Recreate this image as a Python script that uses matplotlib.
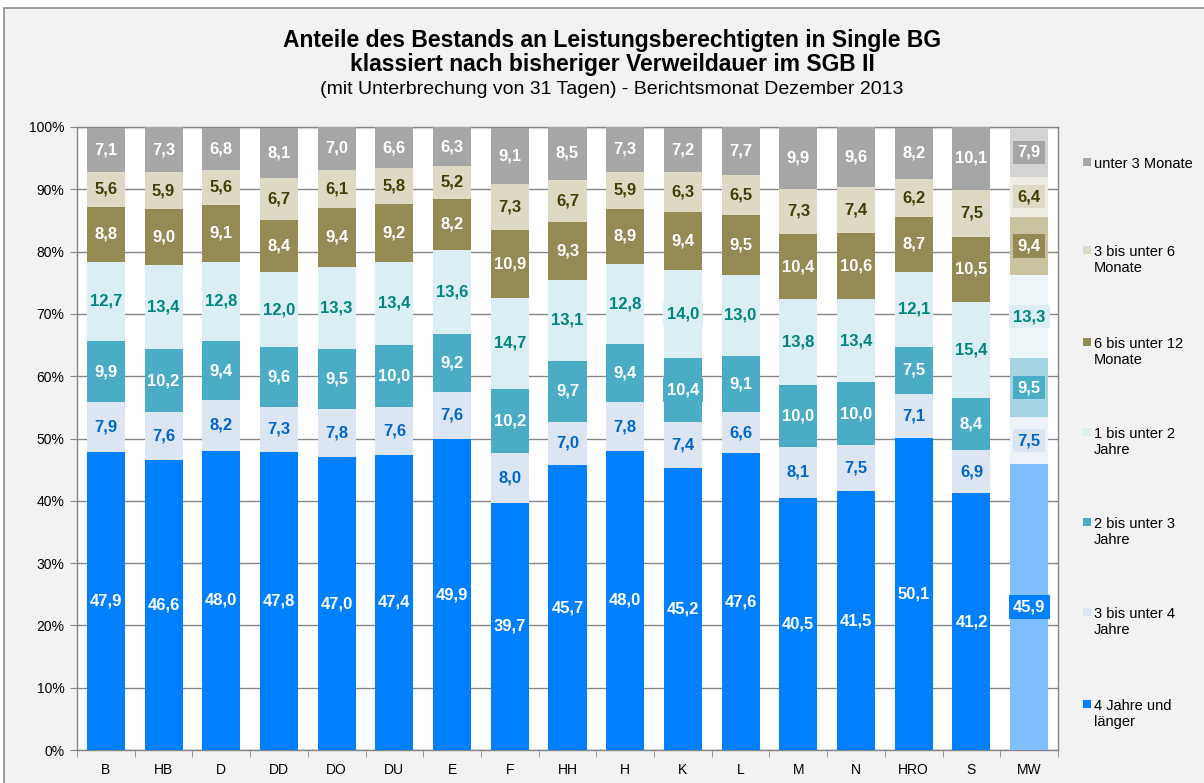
import matplotlib
matplotlib.use("Agg")
import matplotlib.pyplot as plt
from matplotlib.patches import Rectangle
import numpy as np

plt.rcParams['font.family'] = ['Liberation Sans', 'DejaVu Sans']

categories = ["B", "HB", "D", "DD", "DO", "DU", "E", "F", "HH", "H", "K", "L", "M", "N", "HRO", "S", "MW"]

# series, bottom to top
s_4j    = [47.9, 46.6, 48.0, 47.8, 47.0, 47.4, 49.9, 39.7, 45.7, 48.0, 45.2, 47.6, 40.5, 41.5, 50.1, 41.2, 45.9]
s_3bis4 = [7.9, 7.6, 8.2, 7.3, 7.8, 7.6, 7.6, 8.0, 7.0, 7.8, 7.4, 6.6, 8.1, 7.5, 7.1, 6.9, 7.5]
s_2bis3 = [9.9, 10.2, 9.4, 9.6, 9.5, 10.0, 9.2, 10.2, 9.7, 9.4, 10.4, 9.1, 10.0, 10.0, 7.5, 8.4, 9.5]
s_1bis2 = [12.7, 13.4, 12.8, 12.0, 13.3, 13.4, 13.6, 14.7, 13.1, 12.8, 14.0, 13.0, 13.8, 13.4, 12.1, 15.4, 13.3]
s_6bis12m = [8.8, 9.0, 9.1, 8.4, 9.4, 9.2, 8.2, 10.9, 9.3, 8.9, 9.4, 9.5, 10.4, 10.6, 8.7, 10.5, 9.4]
s_3bis6m = [5.6, 5.9, 5.6, 6.7, 6.1, 5.8, 5.2, 7.3, 6.7, 5.9, 6.3, 6.5, 7.3, 7.4, 6.2, 7.5, 6.4]
s_u3m   = [7.1, 7.3, 6.8, 8.1, 7.0, 6.6, 6.3, 9.1, 8.5, 7.3, 7.2, 7.7, 9.9, 9.6, 8.2, 10.1, 7.9]

series = [s_4j, s_3bis4, s_2bis3, s_1bis2, s_6bis12m, s_3bis6m, s_u3m]
legend_labels = ["4 Jahre und\nlänger", "3 bis unter 4\nJahre", "2 bis unter 3\nJahre",
                 "1 bis unter 2\nJahre", "6 bis unter 12\nMonate", "3 bis unter 6\nMonate",
                 "unter 3 Monate"]
colors = ["#007FFF", "#DCE6F2", "#4BACC6", "#DAEEF3", "#948A54", "#DDD9C4", "#A6A6A6"]
colors_mw = ["#80BFFF", "#EDF2F9", "#A5D5E2", "#ECF6F9", "#C9C3A0", "#EEECE1", "#D3D3D3"]
label_colors = ["white", "#0066CC", "white", "#00857F", "white", "#3F3F06", "white"]

W, H = 1204, 783
fig = plt.figure(figsize=(W / 100, H / 100), dpi=100, facecolor="white")
fig.patches.append(Rectangle((4 / W, -0.01), 1.0, 1 - 8 / H + 0.01, transform=fig.transFigure,
                             facecolor="#F2F2F2", edgecolor="#8C8C8C", linewidth=1.2, zorder=-10))

ax = fig.add_axes([77 / W, 1 - 750 / H, (1058 - 77) / W, (750 - 127) / H])
ax.set_facecolor("white")

x = np.arange(len(categories))
bw = 0.66
bottom = np.zeros(len(categories))
for si, vals in enumerate(series):
    vals = np.array(vals)
    cols = [colors[si]] * (len(categories) - 1) + [colors_mw[si]]
    ax.bar(x, vals, bw, bottom=bottom, color=cols, edgecolor="none", zorder=3)
    for i, v in enumerate(vals):
        yc = bottom[i] + v / 2
        txt = f"{v:.1f}".replace(".", ",")
        bbox = None
        if categories[i] == "MW":
            bbox = dict(boxstyle="square,pad=0.25", facecolor=colors[si], edgecolor="none")
        elif categories[i] == "K" and si in (2, 3):
            bbox = dict(boxstyle="square,pad=0.25", facecolor=colors[si], edgecolor="none")
        ax.text(x[i], yc, txt, ha="center", va="center", fontsize=12, fontweight="bold",
                color=label_colors[si], zorder=5, bbox=bbox)
    bottom += vals

ax.set_xlim(-0.5, len(categories) - 0.5)
ax.set_ylim(0, 100)
ax.set_yticks(np.arange(0, 101, 10))
ax.set_yticklabels([f"{v}%" for v in range(0, 101, 10)], fontsize=10)
ax.yaxis.grid(True, color="#868686", linewidth=1.0, zorder=0)
ax.set_axisbelow(True)
ax.set_xticks(x)
ax.set_xticklabels(categories, fontsize=10)
ax.tick_params(axis="x", length=0, pad=9)
ax.set_xticks(np.arange(-0.5, len(categories), 1), minor=True)
ax.tick_params(axis="x", which="minor", length=5, color="#868686")
ax.tick_params(axis="y", length=5, color="#868686", pad=4)
for sp in ax.spines.values():
    sp.set_color("#868686")
    sp.set_linewidth(1.0)

# title
fig.text(612 / W, 1 - 40 / H, "Anteile des Bestands an Leistungsberechtigten in Single BG",
         ha="center", va="center", fontsize=16.5, fontweight="bold")
fig.text(612 / W, 1 - 65 / H, "klassiert nach bisheriger Verweildauer im SGB II",
         ha="center", va="center", fontsize=16.5, fontweight="bold")
fig.text(612 / W, 1 - 89 / H, "(mit Unterbrechung von 31 Tagen) - Berichtsmonat Dezember 2013",
         ha="center", va="center", fontsize=14)

# legend (manual, top to bottom); first-line centres
leg_y = [162, 250, 342, 432, 522, 612, 704]
for k, si in enumerate(range(len(series) - 1, -1, -1)):
    y = leg_y[k]
    fig.patches.append(Rectangle((1083 / W, 1 - (y + 4) / H), 8 / W, 8 / H, transform=fig.transFigure,
                                 facecolor=colors[si], edgecolor="none"))
    fig.text(1094 / W, 1 - (y - 5) / H, legend_labels[si], ha="left", va="top", fontsize=10.5,
             linespacing=1.15)

fig.savefig("out.png", dpi=100, facecolor=fig.get_facecolor())
